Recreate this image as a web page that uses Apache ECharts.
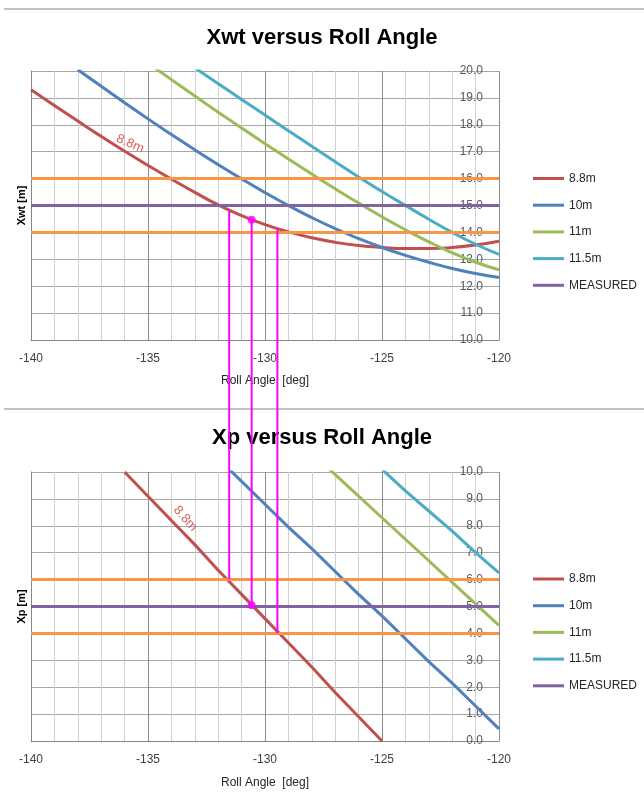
<!DOCTYPE html>
<html>
<head>
<meta charset="utf-8">
<title>Xwt / Xp versus Roll Angle</title>
<script src="https://cdn.jsdelivr.net/npm/echarts@6/dist/echarts.min.js"></script>
<style>
  html, body { margin: 0; padding: 0; background: #fff; }
  #chart { width: 644px; height: 804px; }
</style>
</head>
<body>
<div id="chart"></div>
<script>
// roll angle samples [deg], shared by all curves
const rollDeg = [-140, -139, -138, -137, -136, -135, -134, -133, -132, -131, -130,
                 -129, -128, -127, -126, -125, -124, -123, -122, -121, -120];

// Xwt [m] per wheelbase (top chart)
const xwt88  = [19.3, 18.72, 18.14, 17.57, 17.02, 16.49, 15.98, 15.49, 15.02, 14.62, 14.29,
                14.02, 13.8, 13.63, 13.51, 13.44, 13.4, 13.4, 13.44, 13.53, 13.67];
const xwt10  = [null, null, 20.05, 19.43, 18.82, 18.22, 17.64, 17.07, 16.52, 15.99, 15.48,
                15.0, 14.55, 14.14, 13.77, 13.44, 13.15, 12.89, 12.66, 12.47, 12.32];
const xwt11  = [null, null, null, null, null, 20.3, 19.68, 19.07, 18.47, 17.88, 17.3,
                16.73, 16.17, 15.62, 15.09, 14.58, 14.1, 13.65, 13.24, 12.89, 12.61];
const xwt115 = [null, null, null, null, null, null, null, 20.12, 19.53, 18.94, 18.36,
                17.78, 17.2, 16.63, 16.06, 15.52, 15.0, 14.49, 14.0, 13.56, 13.18];

// Xp [m] per wheelbase (bottom chart)
const xp88  = [null, null, null, null, 10.0, 9.1, 8.2, 7.3, 6.35, 5.45, 4.55,
               3.65, 2.75, 1.8, 0.9, 0.0, null, null, null, null, null];
const xp10  = [null, null, null, null, null, null, null, null, 10.5, 9.65, 8.8,
               7.95, 7.15, 6.3, 5.45, 4.65, 3.8, 2.95, 2.15, 1.3, 0.45];
const xp11  = [null, null, null, null, null, null, null, null, null, null, null,
               null, 10.7, 9.9, 9.1, 8.3, 7.5, 6.7, 5.9, 5.1, 4.3];
const xp115 = [null, null, null, null, null, null, null, null, null, null, null,
               null, null, null, null, 10.1, 9.3, 8.55, 7.8, 7.0, 6.25];

// horizontal reference lines
const limitRoll = [-140, -120];
const xwtMeasured = 15, xwtUpper = 16, xwtLower = 14;
const xpMeasured = 5, xpUpper = 6, xpLower = 4;

// magenta read-off lines: roll angle, Xwt start, Xp end
const guideRoll = [-131.53, -130.57, -129.47];
const guideXwt  = [14.8, 14.47, 14.15];
const guideXp   = [6.0, 5.05, 4.0];

const seriesNames = ['8.8m', '10m', '11m', '11.5m', 'MEASURED'];
const colors = ['#C0504D', '#4F81BD', '#9BBB59', '#4BACC6', '#8064A2'];
const ORANGE = '#F79646';
const MAGENTA = '#FF00FF';
const FONT = 'Liberation Sans';

const pairs = (xs, ys) => xs.map((x, i) => [x, ys[i]]);
const flat = (v) => limitRoll.map(x => [x, v]);

const chartDom = document.getElementById('chart');
const chart = echarts.init(chartDom);

const grids = [
  { left: 31, right: 145, top: 71, height: 269 },
  { left: 31, right: 145, top: 472, height: 269 }
];

const makeXAxis = (gi) => ({
  type: 'value', gridIndex: gi, min: -140, max: -120, interval: 5,
  name: 'Roll Angle  [deg]', nameLocation: 'middle', nameGap: gi === 0 ? 35 : 36,
  nameTextStyle: { fontFamily: FONT, fontSize: 12, color: '#262626' },
  axisLine: { onZero: false, lineStyle: { color: '#868686', width: 1 } },
  axisTick: { show: false },
  axisLabel: { fontFamily: FONT, fontSize: 12, color: '#404040', margin: 13 },
  splitLine: { show: true, lineStyle: { color: '#8C8C8C', width: 1 } },
  minorTick: { show: false, splitNumber: 5 },
  minorSplitLine: { show: true, lineStyle: { color: '#D0D0D0', width: 1 } }
});

const makeYAxes = (gi, min, max, name) => ([
  {
    type: 'value', gridIndex: gi, position: 'right', min: min, max: max, interval: 1,
    axisLine: { show: false }, axisTick: { show: false },
    axisLabel: { inside: true, margin: 16, fontFamily: FONT, fontSize: 12, color: '#595959',
                 formatter: v => v.toFixed(1) },
    splitLine: { show: true, lineStyle: { color: '#A6A6A6', width: 1 } }
  },
  {
    type: 'value', gridIndex: gi, position: 'left', min: min, max: max, interval: 1,
    name: name, nameLocation: 'middle', nameGap: 4,
    nameTextStyle: { fontFamily: FONT, fontSize: 11, fontWeight: 'bold', color: '#000' },
    axisLine: { show: true, lineStyle: { color: '#868686', width: 1 } },
    axisTick: { show: false }, axisLabel: { show: false }, splitLine: { show: false }
  }
]);

const curve = (name, idx, gi, data, smooth) => ({
  name: name, type: 'line', xAxisIndex: gi, yAxisIndex: gi * 2,
  data: data, symbol: 'none', smooth: smooth, connectNulls: false,
  lineStyle: { color: colors[idx], width: 3 }, itemStyle: { color: colors[idx] },
  z: 3
});

const refLine = (name, color, gi, value) => ({
  name: name, type: 'line', xAxisIndex: gi, yAxisIndex: gi * 2,
  data: flat(value), symbol: 'none',
  lineStyle: { color: color, width: 3 }, itemStyle: { color: color }, z: 4
});

const curveLabel = (coord, rotate, offset) => ({
  symbol: 'circle', symbolSize: 0,
  itemStyle: { color: 'transparent' },
  data: [{
    coord: coord,
    label: { show: true, formatter: '8.8m', position: 'inside', rotate: rotate, offset: offset,
             fontFamily: FONT, fontSize: 13, color: '#D9605C' }
  }]
});

const series = [];
// top chart
const top88 = curve('8.8m', 0, 0, pairs(rollDeg, xwt88), true);
top88.markPoint = curveLabel([rollDeg[4], xwt88[4]], -24, [2, -9]);
series.push(top88);
series.push(curve('10m', 1, 0, pairs(rollDeg, xwt10), true));
series.push(curve('11m', 2, 0, pairs(rollDeg, xwt11), true));
series.push(curve('11.5m', 3, 0, pairs(rollDeg, xwt115), true));
series.push(refLine('MEASURED', colors[4], 0, xwtMeasured));
series.push(refLine('upper', ORANGE, 0, xwtUpper));
series.push(refLine('lower', ORANGE, 0, xwtLower));
// bottom chart
const bot88 = curve('8.8m', 0, 1, pairs(rollDeg, xp88), false);
bot88.markPoint = curveLabel([rollDeg[6], xp88[6]], -48, [8, -11.5]);
series.push(bot88);
series.push(curve('10m', 1, 1, pairs(rollDeg, xp10), false));
series.push(curve('11m', 2, 1, pairs(rollDeg, xp11), false));
series.push(curve('11.5m', 3, 1, pairs(rollDeg, xp115), false));
series.push(refLine('MEASURED', colors[4], 1, xpMeasured));
series.push(refLine('upper', ORANGE, 1, xpUpper));
series.push(refLine('lower', ORANGE, 1, xpLower));
// measured point markers
series.push({
  name: 'pointTop', type: 'scatter', xAxisIndex: 0, yAxisIndex: 0,
  data: [[guideRoll[1], guideXwt[1]]], symbolSize: 8, itemStyle: { color: MAGENTA }, z: 11
});
series.push({
  name: 'pointBottom', type: 'scatter', xAxisIndex: 1, yAxisIndex: 2,
  data: [[guideRoll[1], guideXp[1]]], symbolSize: 8, itemStyle: { color: MAGENTA }, z: 11
});

const legendBase = {
  data: seriesNames, orient: 'vertical', left: 533, icon: 'rect',
  itemWidth: 31, itemHeight: 3, itemGap: 12.7, padding: 0,
  textStyle: { fontFamily: FONT, fontSize: 12, color: '#262626', lineHeight: 14 },
  selectedMode: false
};

const option = {
  animation: false,
  backgroundColor: '#fff',
  title: [
    { text: 'Xwt versus Roll Angle', left: 'center', top: 27, padding: 0,
      textStyle: { fontFamily: FONT, fontSize: 22, fontWeight: 'bold', color: '#000' } },
    { text: 'Xp versus Roll Angle', left: 'center', top: 427, padding: 0,
      textStyle: { fontFamily: FONT, fontSize: 22, fontWeight: 'bold', color: '#000' } }
  ],
  legend: [
    Object.assign({}, legendBase, { top: 171.5 }),
    Object.assign({}, legendBase, { top: 572 })
  ],
  grid: grids,
  xAxis: [makeXAxis(0), makeXAxis(1)],
  yAxis: makeYAxes(0, 10, 20, 'Xwt [m]').concat(makeYAxes(1, 0, 10, 'Xp [m]')),
  graphic: [
    { type: 'line', shape: { x1: 4, y1: 9, x2: 644, y2: 9 }, style: { stroke: '#ABABAB', lineWidth: 1.5 } },
    { type: 'line', shape: { x1: 4, y1: 409, x2: 644, y2: 409 }, style: { stroke: '#ABABAB', lineWidth: 1.5 } }
  ],
  series: series
};

chart.setOption(option);

// magenta read-off lines run from the top chart down into the bottom chart:
// find where each Xp end point sits in the top chart's coordinates
guideRoll.forEach((x, i) => {
  const px = chart.convertToPixel({ xAxisIndex: 1, yAxisIndex: 2 }, [x, guideXp[i]]);
  const yEnd = chart.convertFromPixel({ xAxisIndex: 0, yAxisIndex: 0 }, px)[1];
  option.series.push({
    name: 'guide' + i, type: 'line', xAxisIndex: 0, yAxisIndex: 0, clip: false,
    data: [[x, guideXwt[i]], [x, yEnd]], symbol: 'none',
    lineStyle: { color: MAGENTA, width: 2 }, z: 10
  });
});

chart.setOption(option);
</script>
</body>
</html>
